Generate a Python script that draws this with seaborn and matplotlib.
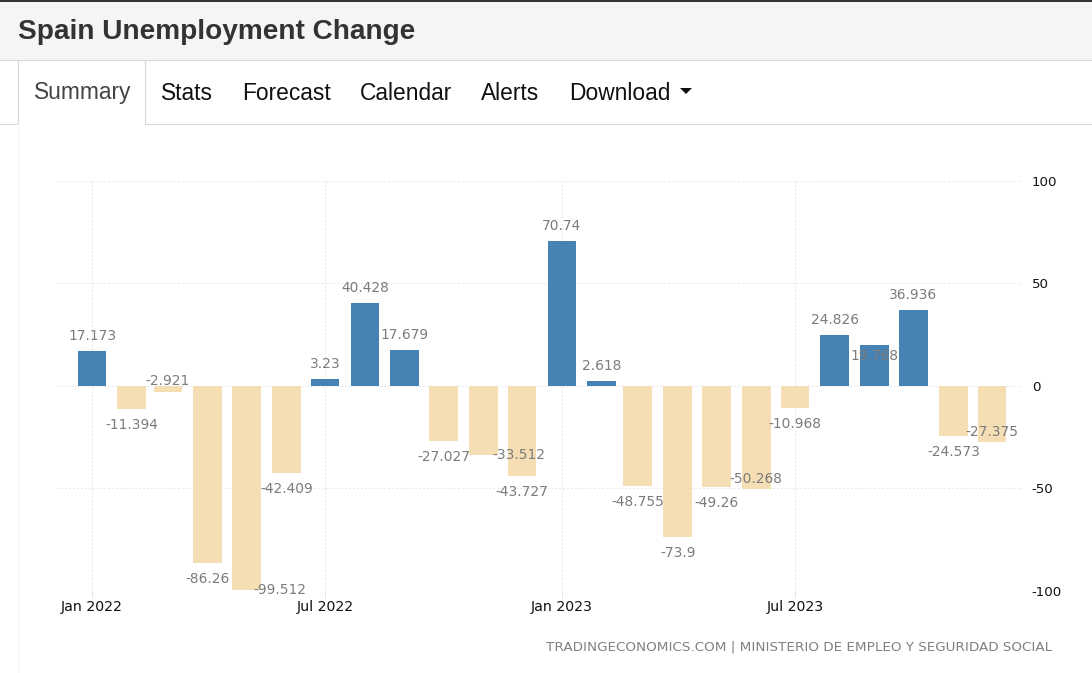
import matplotlib
matplotlib.use('Agg')
import matplotlib.pyplot as plt
import matplotlib.dates as mdates
import pandas as pd
import seaborn as sns
from matplotlib.lines import Line2D
from matplotlib.patches import Polygon, Rectangle

# Datos
months = ['2022-01', '2022-02', '2022-03', '2022-04', '2022-05', '2022-06',
          '2022-07', '2022-08', '2022-09', '2022-10', '2022-11', '2022-12',
          '2023-01', '2023-02', '2023-03', '2023-04', '2023-05', '2023-06',
          '2023-07', '2023-08', '2023-09', '2023-10', '2023-11', '2023-12']
change = [17.173, -11.394, -2.921, -86.26, -99.512, -42.409,
          3.23, 40.428, 17.679, -27.027, -33.512, -43.727,
          70.74, 2.618, -48.755, -73.9, -49.26, -50.268,
          -10.968, 24.826, 19.768, 36.936, -24.573, -27.375]
y_ticks = [100, 50, 0, -50, -100]
y_tick_labels = ['100', '50', '0', '-50', '-100']
x_tick_months = ['2022-01', '2022-07', '2023-01', '2023-07']
x_tick_labels = ['Jan 2022', 'Jul 2022', 'Jan 2023', 'Jul 2023']
tabs = ['Summary', 'Stats', 'Forecast', 'Calendar', 'Alerts', 'Download']

W, H = 1092, 673
BLUE, TAN = '#4682b4', '#f5deb3'
GRID = '#e6e6e6'
LABEL = '#7b7b7b'


def fx(px):
    return px / W


def fy(py):
    return 1 - py / H


df = pd.DataFrame({'month': pd.to_datetime(months), 'change': change})
df['x'] = mdates.date2num(df['month'])
df['sign'] = ['up' if v >= 0 else 'down' for v in df['change']]

sns.set_theme(style='white')
plt.rcParams['font.family'] = 'DejaVu Sans'

fig = plt.figure(figsize=(W / 100, H / 100), dpi=100, facecolor='white')

# Cabecera de la pagina
fig.add_artist(Rectangle((0, fy(60)), 1, fy(2) - fy(60), transform=fig.transFigure,
                         facecolor='#f5f5f5', edgecolor='none'))
fig.add_artist(Rectangle((0, fy(2)), 1, 1 - fy(2), transform=fig.transFigure,
                         facecolor='#333333', edgecolor='none'))
fig.text(fx(18), fy(32), 'Spain Unemployment Change', family='Liberation Sans',
         weight='bold', fontsize=20.2, color='#333333', va='center')

# Pestanas
line_col = '#d8d8d8'
for xs, ys in [((0, 1092), (60, 60)), ((0, 18), (124, 124)), ((145, 1092), (124, 124)),
               ((18, 18), (60, 124)), ((145, 145), (60, 124))]:
    fig.add_artist(Line2D([fx(a) for a in xs], [fy(b) for b in ys], color=line_col, lw=0.8))
fig.add_artist(Line2D([fx(18), fx(18)], [fy(124), fy(673)], color='#f5f5f5', lw=0.8))
tab_x = [34, 161, 242, 360, 481, 569]
for name, tx in zip(tabs, tab_x):
    fig.text(fx(tx), fy(93), name, family='Liberation Sans', fontsize=16.4,
             color='#444444' if name == 'Summary' else '#111111', va='center')
fig.add_artist(Polygon([(fx(680), fy(88)), (fx(692), fy(88)), (fx(686), fy(94))],
                       transform=fig.transFigure, facecolor='#111111', edgecolor='none'))

# Grafico
ax = fig.add_axes([fx(57), fy(591), fx(1020 - 57), fy(181) - fy(591)])
sns.barplot(data=df, x='x', y='change', hue='sign', palette={'up': BLUE, 'down': TAN},
            native_scale=True, orient='x', dodge=False, width=0.8, legend=False,
            saturation=1, linewidth=0, edgecolor='none', ax=ax)

x0 = mdates.date2num(pd.Timestamp('2022-01-01'))
px_per_day = 1.2875
ax.set_xlim(x0 - 35 / px_per_day, x0 + 928 / px_per_day)
ax.set_ylim(-100, 100)
ax.set_xlabel('')
ax.set_ylabel('')
sns.despine(ax=ax, left=True, bottom=True, right=True, top=True)

ax.set_xticks(mdates.date2num(pd.to_datetime(x_tick_months)))
ax.set_xticklabels(x_tick_labels)
ax.set_yticks(y_ticks)
ax.set_yticklabels(y_tick_labels)
ax.yaxis.tick_right()
ax.tick_params(axis='x', length=5, width=0.7, color=GRID, pad=1.5, labelsize=10.2, labelcolor='#111111', bottom=True)
ax.tick_params(axis='y', length=0, pad=8.5, labelsize=9.6, labelcolor='#111111')
ax.set_axisbelow(True)
ax.grid(True, color=GRID, lw=0.7, ls=(0, (2, 2)))

# Etiquetas: desplazamiento en pixeles de las que el original recoloca
label_shift = {2: (0, -27), 4: (33, -16), 10: (35, -16), 17: (0, -26), 20: (0, 26), 23: (0, -26)}
for i, (x, v) in enumerate(zip(df['x'], change)):
    dx, dy = label_shift.get(i, (0, 0))
    base = -15 if v >= 0 else 16
    ax.annotate(f'{v:g}', xy=(x, v), xytext=(dx * 0.72, -(base + dy) * 0.72),
                textcoords='offset points', ha='center', va='center',
                fontsize=9.9, color=LABEL, zorder=5, annotation_clip=False)

fig.text(fx(1052), fy(647), 'TRADINGECONOMICS.COM | MINISTERIO DE EMPLEO Y SEGURIDAD SOCIAL',
         fontsize=9.7, color='#808080', ha='right', va='center')

plt.savefig('out.png', dpi=100)
